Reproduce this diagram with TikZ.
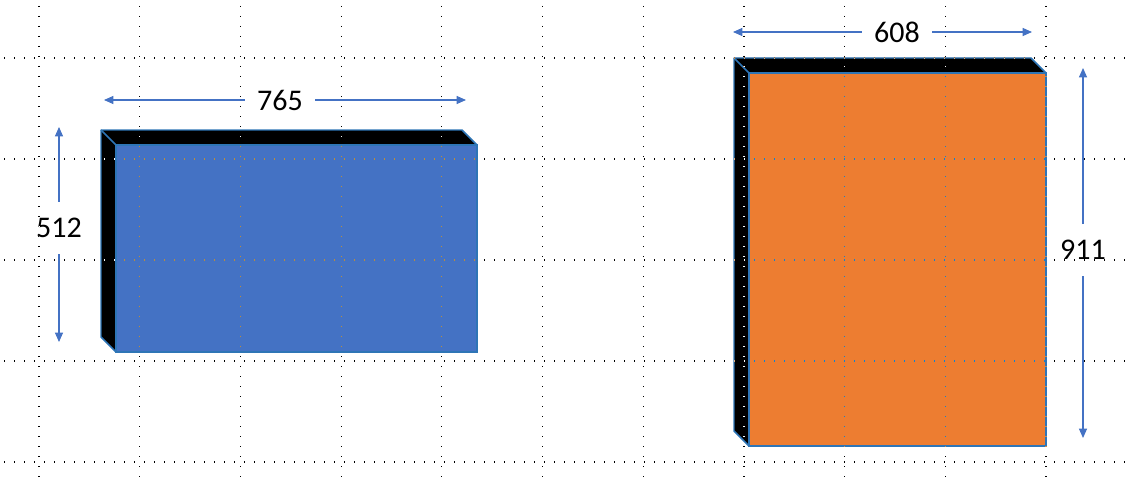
\documentclass[tikz,border=0pt]{standalone}
\usepackage{fontspec}
\setmainfont{Carlito}
\usetikzlibrary{arrows.meta}
\definecolor{bluepanel}{HTML}{4472C4}
\definecolor{orangepanel}{HTML}{ED7D31}
\definecolor{rim}{HTML}{2E75B6}
\definecolor{dim}{HTML}{4472C4}

% dark side band behind a front face node: #1 node, #2 depth
\newcommand{\sideband}[2]{%
  \filldraw[black, draw=rim, line width=1.1pt, line join=round]
    ([shift={(-#2,-#2)}]#1.north west) -- ([shift={(-#2,-#2)}]#1.north east)
    -- (#1.north east) -- (#1.north west) -- (#1.south west)
    -- ([shift={(-#2,-#2)}]#1.south west) -- cycle;
  \draw[rim, line width=1.1pt] ([shift={(-#2,-#2)}]#1.north west) -- (#1.north west);
}

\begin{document}
\begin{tikzpicture}[x=0.75pt,y=-0.75pt,
  face/.style={draw=rim, line width=1.1pt, inner sep=0pt, outer sep=0pt},
  dimlabel/.style={font=\fontsize{22.5}{27}\selectfont, inner xsep=9pt, inner ysep=12pt},
  dimline/.style={dim, line width=0.8pt, -{Triangle[length=7pt,width=6pt]}}]
\useasboundingbox (0,0) rectangle (1126,478);
\fill[white] (0,0) rectangle (1126,478);

% blue panel
\node[face, fill=bluepanel, minimum width=270.75pt, minimum height=155.25pt] (blue) at (296.5,248.5) {};
\sideband{blue}{15}
\node[face, fill=bluepanel, minimum width=270.75pt, minimum height=155.25pt] at (296.5,248.5) {};

% orange panel
\node[face, fill=orangepanel, minimum width=222.75pt, minimum height=279.75pt] (orange) at (897.5,259.5) {};
\sideband{orange}{15}
\node[face, fill=orangepanel, minimum width=222.75pt, minimum height=279.75pt] at (897.5,259.5) {};

% dimensions
\node[dimlabel] (l765) at (280,100) {765};
\coordinate (l765a) at (104,100);
\coordinate (l765b) at (466,100);
\draw[dimline] (l765) -- (l765a);
\draw[dimline] (l765) -- (l765b);

\node[dimlabel] (l512) at (59,228) {512};
\coordinate (l512a) at (59,127);
\coordinate (l512b) at (59,342);
\draw[dimline] (l512) -- (l512a);
\draw[dimline] (l512) -- (l512b);

\node[dimlabel] (l608) at (897,32) {608};
\coordinate (l608a) at (733,32);
\coordinate (l608b) at (1032,32);
\draw[dimline] (l608) -- (l608a);
\draw[dimline] (l608) -- (l608b);

\node[dimlabel] (l911) at (1083,250) {911};
\coordinate (l911a) at (1083,68);
\coordinate (l911b) at (1083,438);
\draw[dimline] (l911) -- (l911a);
\draw[dimline] (l911) -- (l911b);

% dotted grid on top
\begin{scope}[blend mode=difference, white, line width=0.9pt, dash pattern=on 0.9pt off 6.6pt]
\foreach \gy in {58,159,260,361,462}
  \draw (4,\gy) -- (1126,\gy);
\foreach \gx in {0,...,10}
  \draw (39+100.7*\gx,6) -- (39+100.7*\gx,478);
\end{scope}
\end{tikzpicture}
\end{document}
